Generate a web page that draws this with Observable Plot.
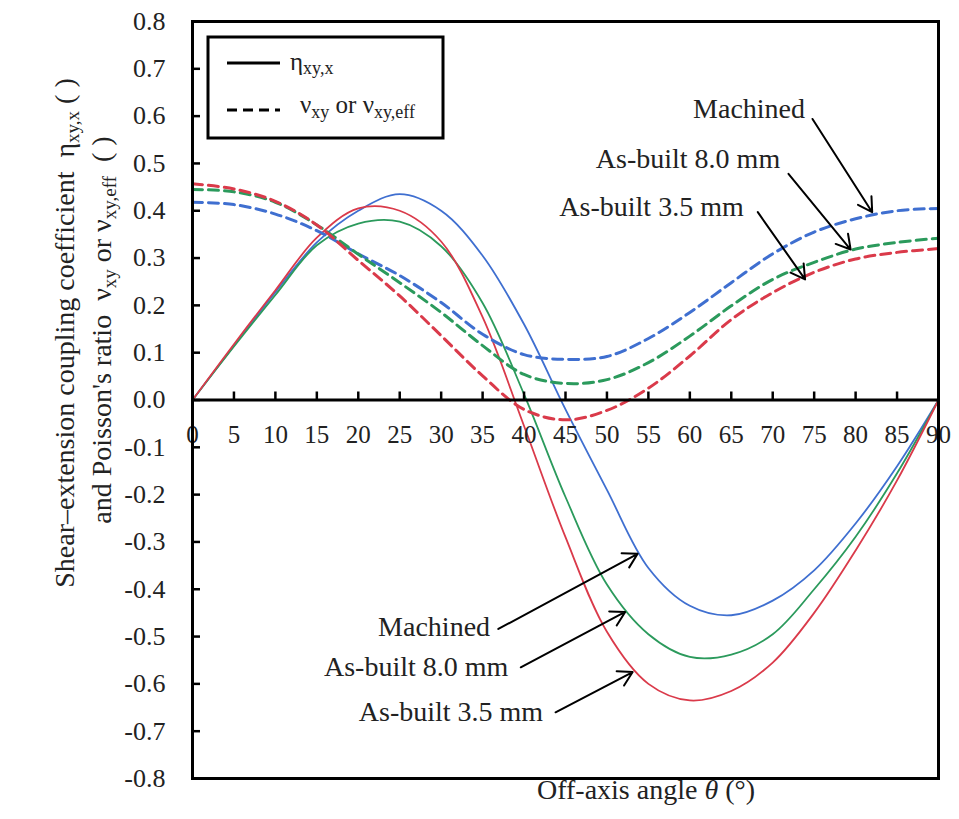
<!DOCTYPE html>
<html>
<head>
<meta charset="utf-8">
<script src="https://cdn.jsdelivr.net/npm/d3@7"></script>
<script src="https://cdn.jsdelivr.net/npm/@observablehq/plot@0.6"></script>
<style>
  html, body { margin: 0; padding: 0; background: #fff; }
  #chart { width: 959px; height: 819px; }
</style>
</head>
<body>
<div id="chart"></div>
<script>
// ---------- data ----------
const angles = [0, 5, 10, 15, 20, 25, 30, 35, 40, 45, 50, 55, 60, 65, 70, 75, 80, 85, 90];

const seriesNames = ["Machined", "As-built 8.0 mm", "As-built 3.5 mm"];
const seriesColors = ["#3f6fd0", "#2b9a5c", "#da3a4a"];

// shear-extension coupling coefficient eta_xy,x (solid)
const etaMachined = [0, 0.115, 0.228, 0.333, 0.400, 0.435, 0.400, 0.305, 0.160, -0.020, -0.190, -0.355, -0.435, -0.455, -0.424, -0.360, -0.261, -0.140, 0];
const eta80 = [0, 0.113, 0.222, 0.327, 0.373, 0.377, 0.325, 0.205, 0.012, -0.205, -0.390, -0.495, -0.543, -0.538, -0.495, -0.400, -0.289, -0.155, 0];
const eta35 = [0, 0.118, 0.232, 0.343, 0.405, 0.400, 0.335, 0.175, -0.055, -0.290, -0.490, -0.600, -0.635, -0.615, -0.555, -0.450, -0.318, -0.170, 0];

// Poisson's ratio nu_xy or nu_xy,eff (dashed)
const nuMachined = [0.418, 0.413, 0.393, 0.358, 0.309, 0.263, 0.206, 0.139, 0.096, 0.086, 0.092, 0.130, 0.185, 0.248, 0.309, 0.355, 0.383, 0.400, 0.405];
const nu80 = [0.445, 0.440, 0.418, 0.370, 0.308, 0.248, 0.185, 0.115, 0.054, 0.035, 0.043, 0.079, 0.135, 0.199, 0.255, 0.291, 0.319, 0.333, 0.342];
const nu35 = [0.457, 0.446, 0.420, 0.370, 0.295, 0.220, 0.136, 0.051, -0.020, -0.042, -0.022, 0.025, 0.093, 0.170, 0.227, 0.270, 0.298, 0.312, 0.320];

const xTicks = [5, 10, 15, 20, 25, 30, 35, 40, 45, 50, 55, 60, 65, 70, 75, 80, 85];
const xTickLabels = [0, 5, 10, 15, 20, 25, 30, 35, 40, 45, 50, 55, 60, 65, 70, 75, 80, 85, 90];
const yTicks = [0.8, 0.7, 0.6, 0.5, 0.4, 0.3, 0.2, 0.1, 0, -0.1, -0.2, -0.3, -0.4, -0.5, -0.6, -0.7, -0.8];

// annotations: label, text end (x, y), arrow from (x1, y1) to (x2, y2)
const annoLabels = ["Machined", "As-built 8.0 mm", "As-built 3.5 mm", "Machined", "As-built 8.0 mm", "As-built 3.5 mm"];
const annoTextX = [73.9, 70.9, 66.5, 35.9, 38.1, 42.3];
const annoTextY = [0.614, 0.510, 0.408, -0.480, -0.565, -0.660];
const annoX1 = [74.8, 71.9, 68.2, 36.9, 39.6, 43.8];
const annoY1 = [0.594, 0.478, 0.397, -0.484, -0.565, -0.660];
const annoX2 = [82.0, 79.4, 73.9, 53.7, 52.2, 53.1];
const annoY2 = [0.397, 0.318, 0.255, -0.325, -0.448, -0.575];

// ---------- tables ----------
const etaSeries = [etaMachined, eta80, eta35];
const nuSeries = [nuMachined, nu80, nu35];
const solid = [], dashed = [];
seriesNames.forEach((name, s) => {
  angles.forEach((a, i) => {
    solid.push({series: name, angle: a, value: etaSeries[s][i]});
    dashed.push({series: name, angle: a, value: nuSeries[s][i]});
  });
});
const annos = annoLabels.map((t, i) => ({text: t, tx: annoTextX[i], ty: annoTextY[i], x1: annoX1[i], y1: annoY1[i], x2: annoX2[i], y2: annoY2[i]}));

const font = "'Liberation Serif', 'DejaVu Serif', serif";

const svg = Plot.plot({
  width: 959,
  height: 819,
  marginLeft: 192,
  marginRight: 21,
  marginTop: 21,
  marginBottom: 41,
  style: {fontFamily: font, fontSize: "25px", background: "#fff", color: "#000", overflow: "visible"},
  x: {domain: [0, 90], axis: null},
  y: {domain: [-0.8, 0.8], axis: null},
  color: {domain: seriesNames, range: seriesColors},
  marks: [
    Plot.line(solid, {x: "angle", y: "value", z: "series", stroke: "series", curve: "catmull-rom", strokeWidth: 1.8}),
    Plot.line(dashed, {x: "angle", y: "value", z: "series", stroke: "series", curve: "catmull-rom", strokeWidth: 3, strokeDasharray: "10,6"}),
    Plot.ruleY([0], {stroke: "#000", strokeWidth: 3}),
    Plot.ruleX(xTicks, {x: d => d, y1: 0, y2: 0, insetTop: -8, stroke: "#000", strokeWidth: 2.5}),
    Plot.ruleY(yTicks, {y: d => d, x1: 0, x2: 0, insetRight: -8, stroke: "#000", strokeWidth: 2.5}),
    Plot.text(xTickLabels, {x: d => d, y: 0, dy: 35, text: d => String(d), fontSize: 25, fill: "#222"}),
    Plot.axisY({ticks: yTicks, tickSize: 0, tickPadding: 27, tickFormat: d => d.toFixed(1), label: null, fontSize: 26, fill: "#222"}),
    Plot.frame({stroke: "#000", strokeWidth: 3}),
    Plot.arrow(annos, {x1: "x1", y1: "y1", x2: "x2", y2: "y2", stroke: "#000", strokeWidth: 2, headLength: 12}),
    Plot.text(annos, {x: "tx", y: "ty", text: "text", textAnchor: "end", fontSize: 28, fill: "#222"})
  ]
});

document.getElementById("chart").appendChild(svg);

// ---------- legend, axis titles ----------
const s = d3.select(svg);
const lg = s.append("g").attr("font-family", font).attr("fill", "#222").attr("text-anchor", "start");
lg.append("rect").attr("x", 208).attr("y", 37).attr("width", 235).attr("height", 101)
  .attr("fill", "#fff").attr("stroke", "#000").attr("stroke-width", 3);
lg.append("line").attr("x1", 227).attr("x2", 280).attr("y1", 63).attr("y2", 63)
  .attr("stroke", "#000").attr("stroke-width", 3);
lg.append("line").attr("x1", 227).attr("x2", 280).attr("y1", 110).attr("y2", 110)
  .attr("stroke", "#000").attr("stroke-width", 3).attr("stroke-dasharray", "10,6");
const t1 = lg.append("text").attr("x", 290).attr("y", 70).attr("font-size", 25).attr("text-anchor", "start");
t1.append("tspan").text("η");
t1.append("tspan").attr("font-size", 18).attr("dy", 4).text("xy,x");
const t2 = lg.append("text").attr("x", 300).attr("y", 113).attr("font-size", 25).attr("text-anchor", "start").style("white-space", "pre");
t2.append("tspan").text("ν");
t2.append("tspan").attr("font-size", 18).attr("dy", 5).text("xy");
t2.append("tspan").attr("dy", -5).text(" or ν");
t2.append("tspan").attr("font-size", 18).attr("dy", 5).text("xy,eff");

// x-axis title
const xt = s.append("text").attr("x", 646).attr("y", 799).attr("text-anchor", "middle")
  .attr("font-family", font).attr("font-size", 28).attr("fill", "#222").style("white-space", "pre");
xt.append("tspan").text("Off-axis angle ");
xt.append("tspan").attr("font-style", "italic").text("θ");
xt.append("tspan").text(" (°)");

// y-axis title (two lines)
const yt1 = s.append("text").attr("transform", "translate(74,333) rotate(-90)").attr("text-anchor", "middle")
  .attr("font-family", font).attr("font-size", 28).attr("fill", "#222").style("white-space", "pre");
yt1.append("tspan").text("Shear–extension coupling coefficient  η");
yt1.append("tspan").attr("font-size", 19).attr("dy", 5).text("xy,x");
yt1.append("tspan").attr("dy", -5).text(" ( )");

const yt2 = s.append("text").attr("transform", "translate(111,330) rotate(-90)").attr("text-anchor", "middle")
  .attr("font-family", font).attr("font-size", 28).attr("fill", "#222").style("white-space", "pre");
yt2.append("tspan").text("and Poisson's ratio  ν");
yt2.append("tspan").attr("font-size", 19).attr("dy", 5).text("xy");
yt2.append("tspan").attr("dy", -5).text(" or ν");
yt2.append("tspan").attr("font-size", 19).attr("dy", 5).text("xy,eff");
yt2.append("tspan").attr("dy", -5).text("  ( )");
</script>
</body>
</html>
